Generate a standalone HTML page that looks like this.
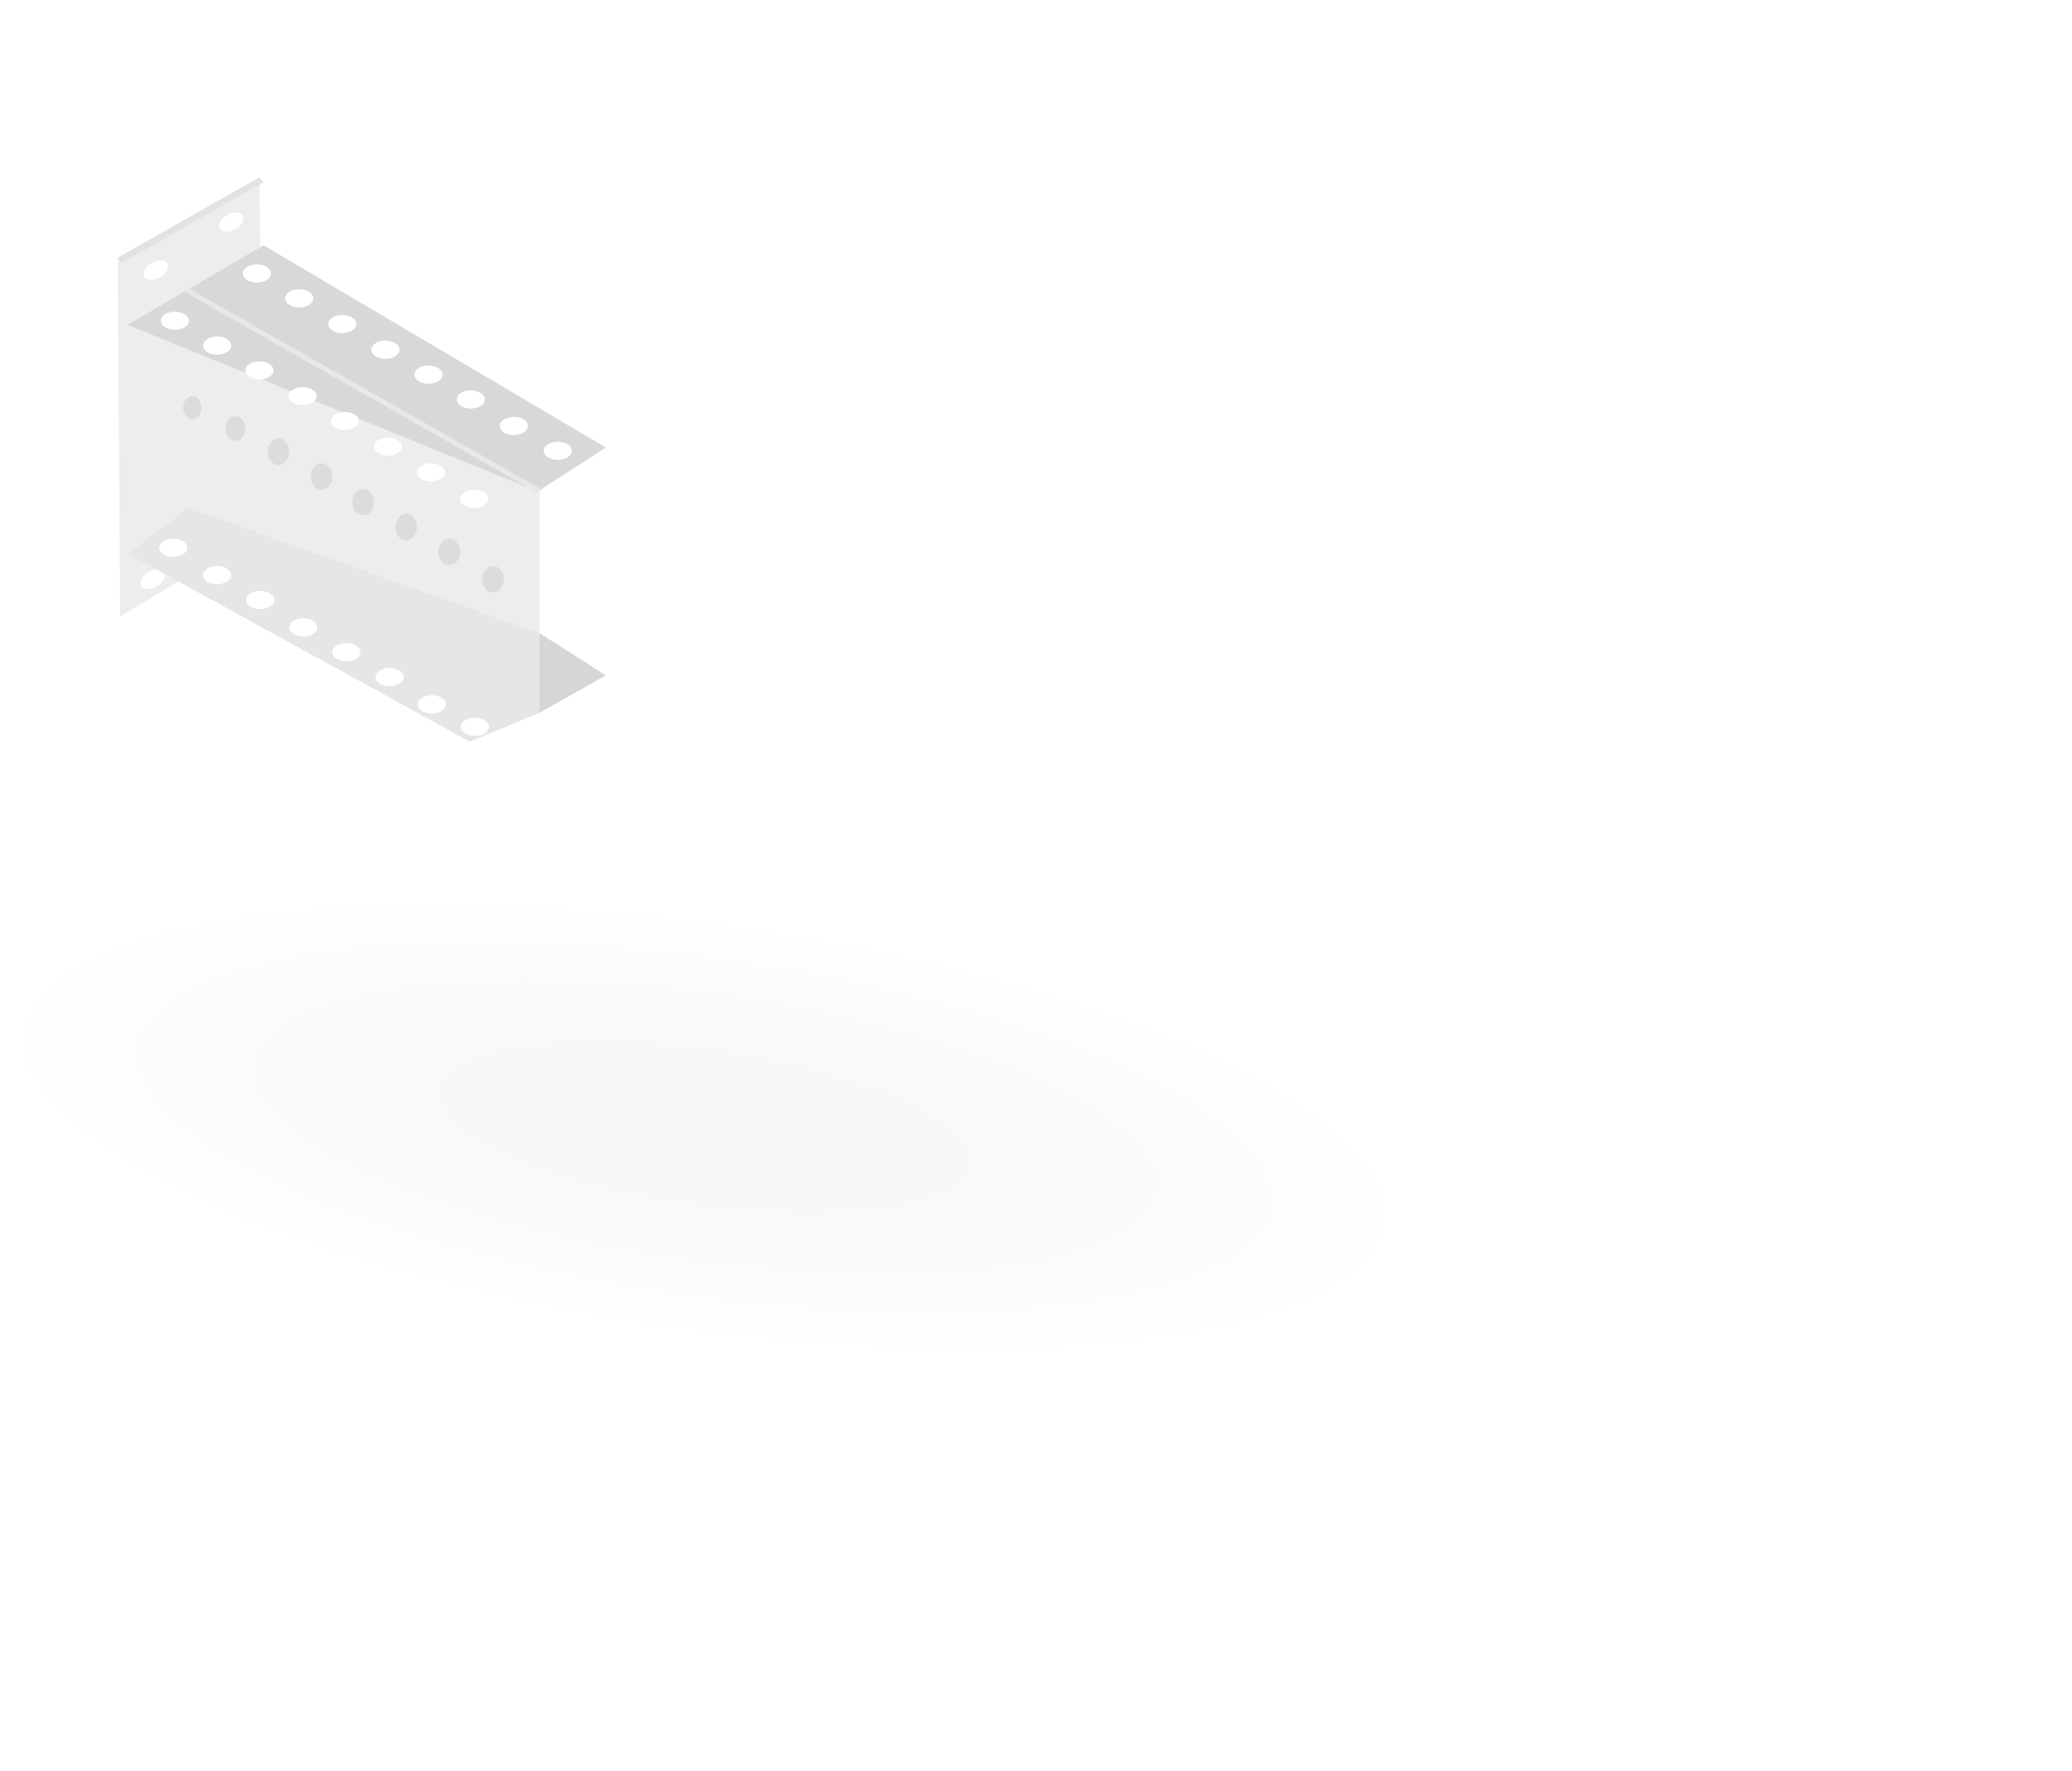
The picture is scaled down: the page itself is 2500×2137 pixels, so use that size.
<!DOCTYPE html>
<html><head><meta charset="utf-8"><style>html,body{margin:0;padding:0;background:#fff}svg{display:block}</style></head>
<body>
<svg width="2500" height="2137" viewBox="0 0 2500 2137" xmlns="http://www.w3.org/2000/svg">
<defs>
<radialGradient id="sh" cx="0.5" cy="0.5" r="0.5">
<stop offset="0" stop-color="#f6f6f6"/><stop offset="0.6" stop-color="#fafafa"/><stop offset="1" stop-color="#fff"/>
</radialGradient>
</defs>
<rect width="2500" height="2137" fill="#fff"/>
<ellipse cx="850" cy="1360" rx="850" ry="250" fill="url(#sh)" transform="rotate(8 850 1360)"/>
<!-- back plate -->
<polygon points="142,311 313,214 318,640 145,744" fill="#ededed"/>
<polygon points="142,311 313,214 318,220 147,317" fill="#e2e2e2"/>
<ellipse cx="279" cy="268" rx="16" ry="10" fill="#fff" transform="rotate(-30 279 268)"/>
<ellipse cx="188" cy="326" rx="16" ry="10" fill="#fff" transform="rotate(-30 188 326)"/>
<ellipse cx="184" cy="699" rx="16" ry="10" fill="#fff" transform="rotate(-30 184 699)"/>
<!-- web -->
<polygon points="154,392 651,593 651,860 154,668" fill="#ededed"/>
<!-- bottom flange -->
<polygon points="154,668 227,613 651,764 731,815 651,860 567,895" fill="#e6e6e6"/>
<polygon points="651,764 731,815 651,860" fill="#d6d6d6"/>
<!-- top flange -->
<polygon points="154,392 318,296 731,540 649,593" fill="#d8d8d8"/>
<polyline points="225,350 650,592" stroke="#e8e8e8" stroke-width="6" fill="none"/>
<g fill="#fff">
<ellipse cx="310" cy="330" rx="17" ry="11"/><ellipse cx="361" cy="360" rx="17" ry="11"/>
<ellipse cx="413" cy="391" rx="17" ry="11"/><ellipse cx="465" cy="422" rx="17" ry="11"/>
<ellipse cx="517" cy="452" rx="17" ry="11"/><ellipse cx="568" cy="482" rx="17" ry="11"/>
<ellipse cx="620" cy="514" rx="17" ry="11"/><ellipse cx="673" cy="544" rx="17" ry="11"/>
<ellipse cx="211" cy="387" rx="17" ry="11"/><ellipse cx="262" cy="417" rx="17" ry="11"/>
<ellipse cx="313" cy="447" rx="17" ry="11"/><ellipse cx="365" cy="478" rx="17" ry="11"/>
<ellipse cx="416" cy="508" rx="17" ry="11"/><ellipse cx="468" cy="539" rx="17" ry="11"/>
<ellipse cx="520" cy="570" rx="17" ry="11"/><ellipse cx="572" cy="602" rx="17" ry="11"/>
<ellipse cx="209" cy="661" rx="17" ry="11"/><ellipse cx="262" cy="694" rx="17" ry="11"/>
<ellipse cx="314" cy="724" rx="17" ry="11"/><ellipse cx="366" cy="757" rx="17" ry="11"/>
<ellipse cx="418" cy="787" rx="17" ry="11"/><ellipse cx="470" cy="817" rx="17" ry="11"/>
<ellipse cx="521" cy="850" rx="17" ry="11"/><ellipse cx="573" cy="877" rx="17" ry="11"/>
<ellipse cx="673" cy="719" rx="17" ry="11"/>
</g>
<g fill="#dcdcdc">
<ellipse cx="232" cy="492" rx="11" ry="14"/><ellipse cx="284" cy="517" rx="12" ry="15"/>
<ellipse cx="336" cy="545" rx="13" ry="16"/><ellipse cx="388" cy="575" rx="13" ry="16"/>
<ellipse cx="438" cy="606" rx="13" ry="16"/><ellipse cx="490" cy="636" rx="13" ry="16"/>
<ellipse cx="542" cy="666" rx="13" ry="16"/><ellipse cx="595" cy="699" rx="13" ry="16"/>
</g>
</svg>
</body></html>
